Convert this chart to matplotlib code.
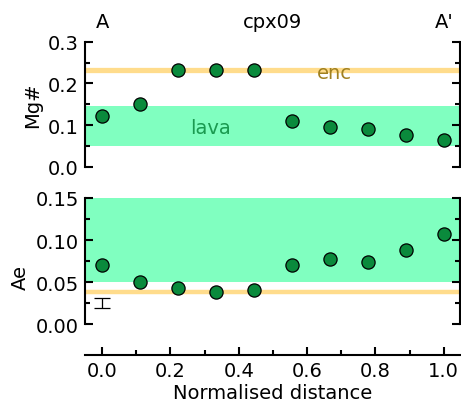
import matplotlib
matplotlib.use("Agg")
import matplotlib.pyplot as plt
import matplotlib.transforms as mtransforms
from matplotlib.ticker import MultipleLocator, FixedLocator

# ---- data ----
distance = [0.0, 1/9, 2/9, 3/9, 4/9, 5/9, 6/9, 7/9, 8/9, 1.0]
mg_num = [0.121, 0.151, 0.232, 0.232, 0.231, 0.110, 0.096, 0.090, 0.076, 0.063]
ae = [0.0698, 0.050, 0.0429, 0.0385, 0.0401, 0.0698, 0.077, 0.0742, 0.0877, 0.1067]
mg_lava = (0.05, 0.145)
mg_enc = 0.231
ae_lava = (0.05, 0.15)
ae_enc = 0.0384
err_x, err_y, err_half = 0.0, 0.025, 0.0065
sample = "cpx09"
mg_ticks = [0.0, 0.1, 0.2, 0.3]
mg_ticklabels = ['0.0', '0.1', '0.2', '0.3']
ae_ticks = [0.0, 0.05, 0.10, 0.15]
ae_ticklabels = ['0.00', '0.05', '0.10', '0.15']
x_ticks = [0.0, 0.2, 0.4, 0.6, 0.8, 1.0]
x_ticklabels = ['0.0', '0.2', '0.4', '0.6', '0.8', '1.0']

plt.rcParams['font.family'] = ['DejaVu Sans']
FS = 14
W, H = 461, 406
fig = plt.figure(figsize=(W/100, H/100), dpi=100)

band_c = '#80ffc0'
enc_c = '#ffdc8c'
pt_c = '#0a8a3c'
xlim = (-0.05, 1.046)

def px_axes(left, right, top, bottom):
    return fig.add_axes([left/W, (H-bottom)/H, (right-left)/W, (bottom-top)/H])

def style(ax):
    for s in ['left', 'right', 'bottom', 'top']:
        ax.spines[s].set_linewidth(1.5)
    ax.tick_params(which='both', direction='in', width=1.5, labelsize=FS, pad=4.5)
    ax.tick_params(which='major', length=6)
    ax.tick_params(which='minor', length=3.5)
    ax.spines['top'].set_visible(False)

# top panel
ax1 = px_axes(85, 459.5, 42.7, 167.7)
style(ax1)
ax1.set_xlim(*xlim)
ax1.set_ylim(0, 0.3)
ax1.spines['bottom'].set_visible(False)
ax1.tick_params(axis='x', which='both', bottom=False, labelbottom=False)
ax1.tick_params(axis='y', which='both', left=True, right=True)
ax1.set_yticks(mg_ticks)
ax1.set_yticklabels(mg_ticklabels)
ax1.yaxis.set_minor_locator(MultipleLocator(0.05))
ax1.axhspan(*mg_lava, color=band_c, lw=0, zorder=0)
ax1.axhline(mg_enc, color=enc_c, lw=3.8, zorder=1)
ax1.plot(distance, mg_num, 'o', ms=9.5, mfc=pt_c, mec='black', mew=0.9, zorder=3, clip_on=False)
ax1.text(0.681, 0.226, 'enc', color='#a08020', fontsize=FS, ha='center', va='center')
ax1.text(0.316, 0.095, 'lava', color='#1a9a50', fontsize=FS, ha='center', va='center')
ax1.set_ylabel('Mg#', fontsize=FS)
tr = mtransforms.blended_transform_factory(ax1.transData, ax1.transAxes)
ax1.text(0.0, 1.16, 'A', transform=tr, fontsize=FS, ha='center', va='center')
ax1.text(0.5, 1.16, sample, transform=tr, fontsize=FS, ha='center', va='center')
ax1.text(1.0, 1.16, "A'", transform=tr, fontsize=FS, ha='center', va='center')

# bottom panel
ax2 = px_axes(85, 459.5, 199, 356)
style(ax2)
ax2.set_xlim(*xlim)
ax2.set_ylim(-0.0369, 0.15)
ax2.spines['left'].set_bounds(0, 0.15)
ax2.spines['right'].set_bounds(0, 0.15)
ax2.tick_params(axis='y', which='both', left=True, right=True)
ax2.tick_params(axis='x', which='both', top=False)
ax2.set_yticks(ae_ticks)
ax2.set_yticklabels(ae_ticklabels)
ax2.yaxis.set_minor_locator(FixedLocator([0.025, 0.075, 0.125]))
ax2.set_xticks(x_ticks)
ax2.set_xticklabels(x_ticklabels)
ax2.xaxis.set_minor_locator(FixedLocator([0.1, 0.3, 0.5, 0.7, 0.9]))
ax2.axhspan(*ae_lava, color=band_c, lw=0, zorder=0)
ax2.axhline(ae_enc, color=enc_c, lw=3.2, zorder=1)
ax2.plot(distance, ae, 'o', ms=9.5, mfc=pt_c, mec='black', mew=0.9, zorder=3, clip_on=False)
ax2.errorbar([err_x], [err_y], yerr=[err_half], fmt='none', ecolor='black',
             elinewidth=0.9, capsize=5.8, capthick=0.9, zorder=3)
ax2.set_ylabel('Ae', fontsize=FS)
ax2.set_xlabel('Normalised distance', fontsize=FS, labelpad=2)

fig.savefig('out.png', dpi=100)
